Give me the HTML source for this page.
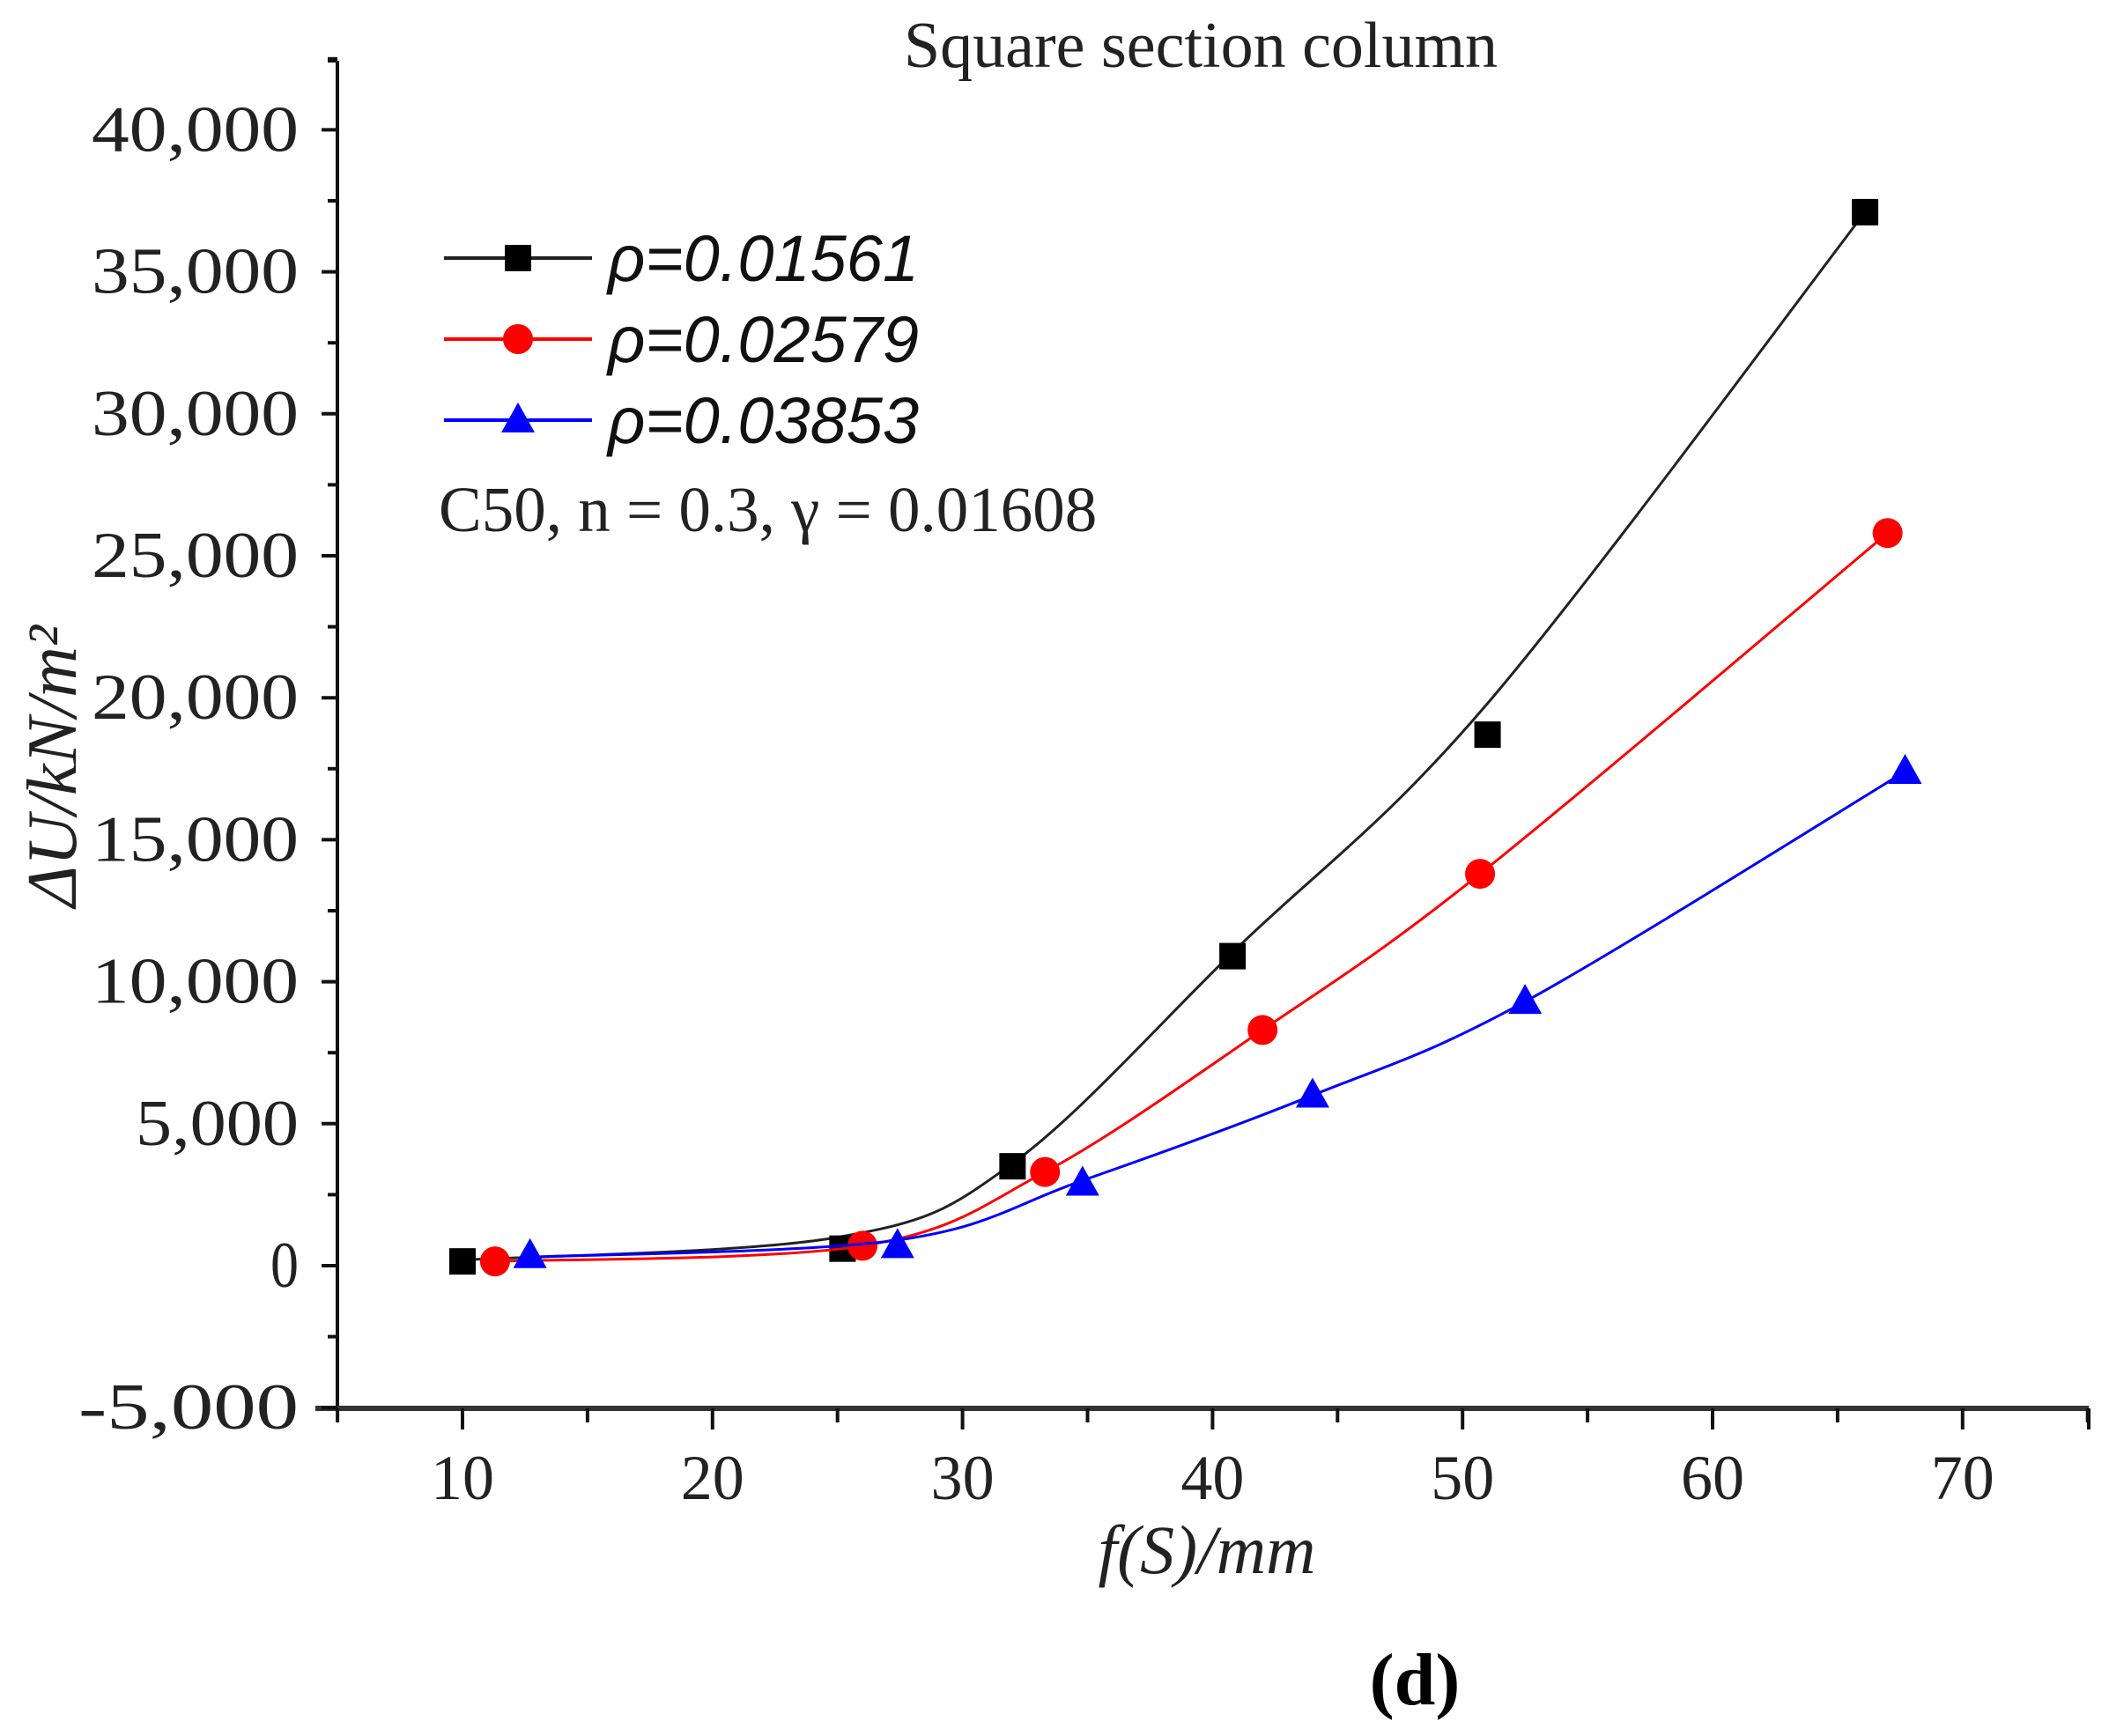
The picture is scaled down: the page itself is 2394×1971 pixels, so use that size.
<!DOCTYPE html>
<html><head><meta charset="utf-8"><style>
html,body{margin:0;padding:0;background:#fff;}
svg{display:block;}
</style></head><body>
<svg id="s" width="2394" height="1971" viewBox="0 0 2394 1971" xmlns="http://www.w3.org/2000/svg">
<g font-family="Liberation Serif, serif" fill="#222">
<text x="1363" y="76" font-size="74" text-anchor="middle">Square section column</text>
<text x="1606" y="1935" font-size="84" font-weight="bold" text-anchor="middle" fill="#000">(d)</text>
<text x="1370" y="1786" font-size="78" font-style="italic" text-anchor="middle">f(S)/mm</text>
<text transform="translate(86,870) rotate(-90)" font-size="80" font-style="italic" text-anchor="middle">ΔU/kN/m²</text>
<text x="498" y="603" font-size="73">C50, n = 0.3, γ = 0.01608</text>
</g>
<g id="g"></g>
</svg>
<script>
const NS="http://www.w3.org/2000/svg",g=document.getElementById('g');
const X=v=>525+(v-10)*28.38, Y=v=>1437-v*0.03224;
function el(t,a,txt){const e=document.createElementNS(NS,t);for(const k in a)e.setAttribute(k,a[k]);if(txt!==undefined)e.textContent=txt;g.appendChild(e);return e;}
el('line',{x1:383,y1:69,x2:383,y2:1599,stroke:'#111','stroke-width':4});
el('line',{x1:358,y1:1599,x2:2371,y2:1599,stroke:'#333','stroke-width':6});
for(let v=-5000;v<=42500;v+=2500){const y=Y(v);const maj=v%5000==0;el('line',{x1:maj?365:372,y1:y,x2:383,y2:y,stroke:'#111','stroke-width':4});
 if(maj)el('text',{x:339,y:y+24,'font-size':74,'text-anchor':'end','font-family':'Liberation Serif, serif',fill:'#222',textLength:v<0?250:(v>=10000?235:(v==0?32:185)),lengthAdjust:'spacingAndGlyphs'},v.toLocaleString('en-US'));}
el('line',{x1:383,y1:69,x2:372,y2:69,stroke:'#111','stroke-width':4});
for(let v=5;v<=75;v+=5){const x=X(v);const maj=v%10==0;el('line',{x1:x,y1:1599,x2:x,y2:maj?1623:1615,stroke:'#111','stroke-width':4});
 if(maj)el('text',{x:x,y:1702,'font-size':72,'text-anchor':'middle','font-family':'Liberation Serif, serif',fill:'#222'},v);}
el('line',{x1:2371,y1:1599,x2:2371,y2:1623,stroke:'#111','stroke-width':4});
function cr(p){let d=`M${p[0][0]},${p[0][1]}`;for(let i=0;i<p.length-1;i++){const a=p[i-1]||p[i],b=p[i],c=p[i+1],e=p[i+2]||c;
 d+=` C${b[0]+(c[0]-a[0])/6},${b[1]+(c[1]-a[1])/6} ${c[0]-(e[0]-b[0])/6},${c[1]-(e[1]-b[1])/6} ${c[0]},${c[1]}`;}return d;}
const S=[
{c:'#222',m:'sq',pts:[[10,150],[25.2,600],[32,3500],[40.8,10900],[51,18700],[66.1,37100]],cur:[[10,200],[25,1000],[32,3600],[41,11200],[51,19800],[66.1,37100]]},
{c:'#f00',m:'ci',pts:[[11.3,150],[26,700],[33.3,3300],[42,8300],[50.7,13800],[67,25800]]},
{c:'#00f',m:'tr',pts:[[12.7,350],[27.4,700],[34.8,2900],[44,6000],[52.5,9300],[67.7,17400]],cur:[[12.7,300],[27.4,900],[34.8,3000],[44,6000],[52.5,9300],[67.7,17400]]}];
function mk(m,x,y,c){if(m=='sq')el('rect',{x:x-15,y:y-15,width:30,height:30,fill:'#000'});
 else if(m=='ci')el('circle',{cx:x,cy:y,r:17,fill:'#f00'});
 else el('polygon',{points:`${x},${y-20} ${x-19},${y+14} ${x+19},${y+14}`,fill:'#00f'});}
S.forEach((s,i)=>{const cp=(s.cur||s.pts).map(p=>[X(p[0]),Y(p[1])]);
 el('path',{d:cr(cp),fill:'none',stroke:s.c,'stroke-width':3});
 s.pts.forEach(p=>mk(s.m,X(p[0]),Y(p[1]),s.c));
 const ly=293+i*92;el('line',{x1:504,y1:ly,x2:672,y2:ly,stroke:s.c,'stroke-width':4});mk(s.m,588,ly,s.c);
 el('text',{x:690,y:ly+26,'font-size':74,'font-style':'italic','font-family':'Liberation Sans, sans-serif',fill:'#111'},['ρ=0.01561','ρ=0.02579','ρ=0.03853'][i]);});
</script>
</body></html>
